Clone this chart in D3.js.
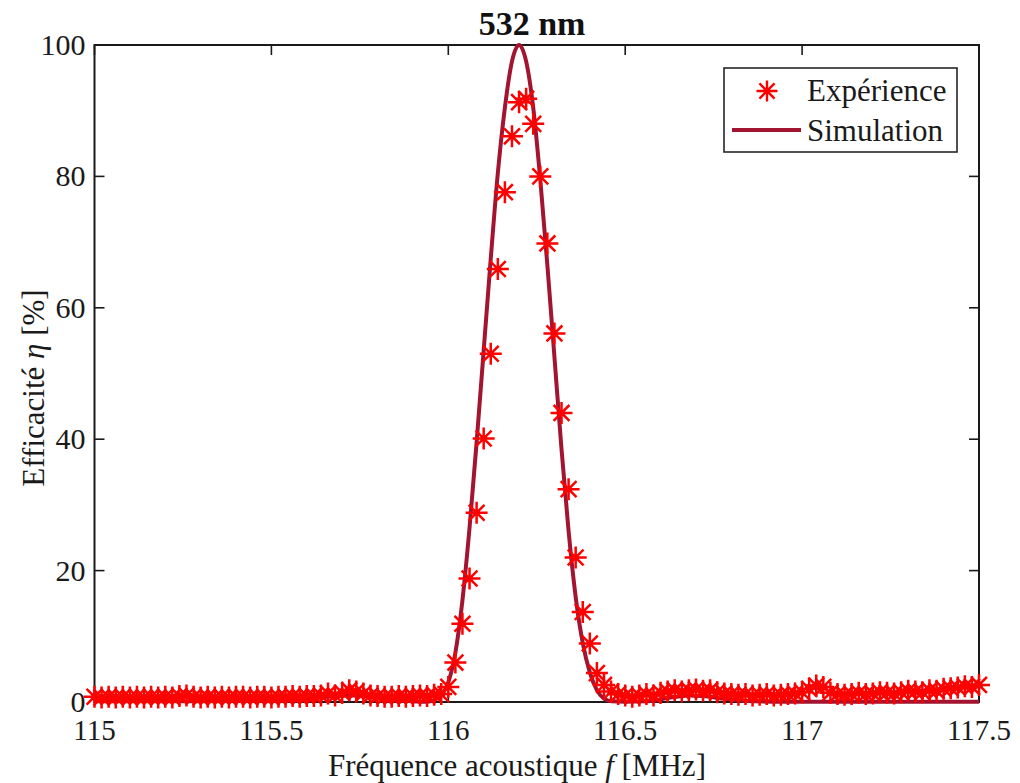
<!DOCTYPE html>
<html>
<head>
<meta charset="utf-8">
<script src="https://cdn.jsdelivr.net/npm/d3@7"></script>
<style>
  html, body { margin: 0; padding: 0; background: #fff; }
  svg { display: block; font-family: "Liberation Serif", "DejaVu Serif", serif; }
</style>
</head>
<body>
<svg id="chart" width="1020" height="783"></svg>
<script>
// ---------------- data ----------------
const title = "532 nm";
const xLabelMain = "Fréquence acoustique ";
const yLabelMain = "Efficacité ";
const xTicks = [115, 115.5, 116, 116.5, 117, 117.5];
const xTickLabels = ["115", "115.5", "116", "116.5", "117", "117.5"];
const yTicks = [0, 20, 40, 60, 80, 100];
const yTickLabels = ["0", "20", "40", "60", "80", "100"];
const seriesNames = ["Expérience", "Simulation"];

const expFreq = [
  115.00,115.02,115.04,115.06,115.08,115.10,115.12,115.14,115.16,115.18,
  115.20,115.22,115.24,115.26,115.28,115.30,115.32,115.34,115.36,115.38,
  115.40,115.42,115.44,115.46,115.48,115.50,115.52,115.54,115.56,115.58,
  115.60,115.62,115.64,115.66,115.68,115.70,115.72,115.74,115.76,115.78,
  115.80,115.82,115.84,115.86,115.88,115.90,115.92,115.94,115.96,115.98,
  116.00,116.02,116.04,116.06,116.08,116.10,116.12,116.14,116.16,116.18,
  116.20,116.22,116.24,116.26,116.28,116.30,116.32,116.34,116.36,116.38,
  116.40,116.42,116.44,116.46,116.48,
  116.50,116.52,116.54,116.56,116.58,116.60,116.62,116.64,116.66,116.68,
  116.70,116.72,116.74,116.76,116.78,116.80,116.82,116.84,116.86,116.88,
  116.90,116.92,116.94,116.96,116.98,117.00,117.02,117.04,117.06,117.08,
  117.10,117.12,117.14,117.16,117.18,117.20,117.22,117.24,117.26,117.28,
  117.30,117.32,117.34,117.36,117.38,117.40,117.42,117.44,117.46,117.48,
  117.50
];
const expVal = [
  0.8,0.7,0.8,0.7,0.8,0.7,0.8,0.7,0.8,0.7,
  0.8,0.7,0.9,1.0,0.8,0.7,0.8,0.7,0.8,0.7,
  0.8,0.8,0.7,0.8,0.8,0.7,0.8,0.8,0.9,0.8,
  0.9,0.9,1.0,1.3,1.0,1.4,1.8,1.6,1.3,1.0,
  0.9,0.8,0.8,0.9,0.8,0.9,1.0,0.9,1.1,1.2,
  2.3,6.0,11.9,18.8,28.8,40.1,53.0,65.9,77.6,86.1,
  91.3,91.8,88.0,80.0,69.8,56.1,44.0,32.4,22.0,13.7,
  8.9,4.4,2.6,1.6,1.2,
  1.0,0.8,1.0,1.2,1.0,1.4,1.6,1.8,1.6,1.8,
  1.9,1.7,1.8,1.5,1.3,1.2,1.1,1.2,1.0,1.1,
  1.2,1.0,1.1,1.2,1.3,1.5,2.0,2.5,2.3,1.4,
  1.2,1.1,1.2,1.4,1.2,1.3,1.5,1.4,1.3,1.5,
  1.7,1.6,1.5,1.8,1.7,2.0,2.1,2.2,2.4,2.3,
  2.6
];

const simFreq = [
  115.00,115.20,115.40,115.55,115.62,115.68,115.73,115.78,115.84,115.90,
  115.94,115.96,115.98,116.00,116.02,116.04,116.06,116.08,116.10,116.12,
  116.14,116.16,116.18,116.20,116.22,116.24,116.26,116.28,116.30,116.32,
  116.34,116.36,116.38,116.40,116.42,116.44,116.46,116.50,116.56,116.62,
  116.68,116.72,116.78,116.84,116.95,117.10,117.30,117.50
];
const simVal = [
  0.1,0.1,0.15,0.3,0.6,0.9,1.0,0.8,0.4,0.1,
  0.02,0.3,1.0,3.0,7.5,15.5,26.5,39.5,53.5,67.5,
  80.5,90.5,97.5,100,97.5,90.5,79.5,66.5,52.5,38.5,
  26,16,9,4.5,1.8,0.5,0.1,0.05,0.1,0.6,
  1.0,0.9,0.5,0.15,0.05,0.05,0.05,0.05
];

// ---------------- layout ----------------
(function () {
const svg = d3.select("#chart");
const pL = 94.5, pR = 979, pT = 45, pB = 702;
const x = d3.scaleLinear().domain([115, 117.5]).range([pL, pR]);
const y = d3.scaleLinear().domain([0, 100]).range([pB, pT]);
const axisColor = "#1a1a1a";
const simColor = "#a2142f";
const expColor = "#ff0000";
const fontSize = 29;

// ticks (inward, all four sides)
const tickLen = 10;
const gT = svg.append("g").attr("stroke", axisColor).attr("stroke-width", 1.6);
xTicks.forEach(t => {
  gT.append("line").attr("x1", x(t)).attr("x2", x(t)).attr("y1", pB).attr("y2", pB - tickLen);
  gT.append("line").attr("x1", x(t)).attr("x2", x(t)).attr("y1", pT).attr("y2", pT + tickLen);
});
yTicks.forEach(t => {
  gT.append("line").attr("x1", pL).attr("x2", pL + tickLen).attr("y1", y(t)).attr("y2", y(t));
  gT.append("line").attr("x1", pR).attr("x2", pR - tickLen).attr("y1", y(t)).attr("y2", y(t));
});

// box
svg.append("rect").attr("x", pL).attr("y", pT).attr("width", pR - pL).attr("height", pB - pT)
  .attr("fill", "none").attr("stroke", axisColor).attr("stroke-width", 2);

// tick labels
svg.append("g").selectAll("text").data(xTicks).join("text")
  .attr("x", d => x(d)).attr("y", pB + 38)
  .attr("text-anchor", "middle").attr("font-size", fontSize).attr("fill", "#1a1a1a")
  .text((d, i) => xTickLabels[i]);
svg.append("g").selectAll("text").data(yTicks).join("text")
  .attr("x", pL - 9).attr("y", d => y(d) + 10)
  .attr("text-anchor", "end").attr("font-size", 30).attr("fill", "#1a1a1a")
  .text((d, i) => yTickLabels[i]);

// axis labels
const xl = svg.append("text").attr("x", 517).attr("y", 776)
  .attr("text-anchor", "middle").attr("font-size", 31).attr("fill", "#1a1a1a");
xl.append("tspan").text(xLabelMain);
xl.append("tspan").attr("font-style", "italic").text("f");
xl.append("tspan").text(" [MHz]");

const yl = svg.append("text").attr("transform", `translate(44,388) rotate(-90)`)
  .attr("text-anchor", "middle").attr("font-size", 31).attr("fill", "#1a1a1a");
yl.append("tspan").text(yLabelMain);
yl.append("tspan").attr("font-style", "italic").text("η");
yl.append("tspan").text(" [%]");

// title
svg.append("text").attr("x", 532).attr("y", 35).attr("text-anchor", "middle")
  .attr("font-size", 34).attr("font-weight", "bold").attr("fill", "#111").text(title);

// simulation line
const simData = simFreq.map((f, i) => [f, simVal[i]]);
const line = d3.line().x(d => x(d[0])).y(d => y(d[1])).curve(d3.curveMonotoneX);
svg.append("path").datum(simData).attr("d", line).attr("fill", "none")
  .attr("stroke", simColor).attr("stroke-width", 4).attr("stroke-linejoin", "round");

// experiment markers (asterisk)
const starPath = (r) => {
  const d = r * 0.72;
  return `M${-r},0L${r},0M0,${-r}L0,${r}M${-d},${-d}L${d},${d}M${-d},${d}L${d},${-d}`;
};
const expData = expFreq.map((f, i) => [f, expVal[i]]);
svg.append("g").selectAll("path").data(expData).join("path")
  .attr("transform", d => `translate(${x(d[0])},${y(d[1])})`)
  .attr("d", starPath(11)).attr("fill", "none")
  .attr("stroke", expColor).attr("stroke-width", 2.5).attr("stroke-linecap", "butt");

// legend
const lg = svg.append("g");
lg.append("rect").attr("x", 724).attr("y", 68).attr("width", 233).attr("height", 84)
  .attr("fill", "#fff").attr("stroke", "#262626").attr("stroke-width", 1.6);
lg.append("path").attr("transform", "translate(767,91)").attr("d", starPath(10.5))
  .attr("fill", "none").attr("stroke", expColor).attr("stroke-width", 2.4);
lg.append("line").attr("x1", 732).attr("x2", 801).attr("y1", 130).attr("y2", 130)
  .attr("stroke", simColor).attr("stroke-width", 4);
lg.append("text").attr("x", 807).attr("y", 101).attr("font-size", 31).attr("fill", "#1a1a1a").text(seriesNames[0]);
lg.append("text").attr("x", 807).attr("y", 141).attr("font-size", 31).attr("fill", "#1a1a1a").text(seriesNames[1]);
})();
</script>
</body>
</html>
